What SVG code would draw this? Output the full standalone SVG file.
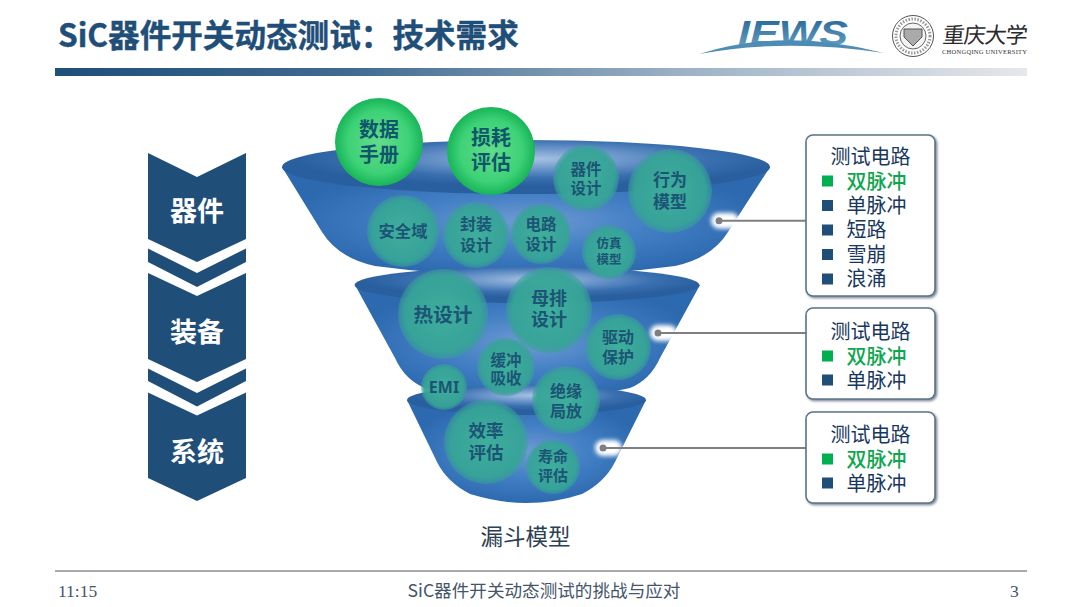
<svg xmlns="http://www.w3.org/2000/svg" width="1080" height="607" viewBox="0 0 1080 607">
<style>
text{font-family:"Noto Sans CJK SC","Noto Sans",sans-serif}
.c{text-anchor:middle}
.title{font-size:31.6px;font-weight:700;fill:#1f4e79;stroke:#1f4e79;stroke-width:.4}
.chev{fill:#1f4e79}
.cl{font-size:27px;font-weight:700;fill:#fff;text-anchor:middle}
.b{fill:url(#teal)}
.g{fill:url(#green)}
.t{font-weight:700;fill:#1b5474;text-anchor:middle}
.tg{font-weight:700;fill:#0f566c;text-anchor:middle;font-size:20px}
.box{fill:#fff;stroke:#5c7488;stroke-width:1.6;filter:url(#sh)}
.bt{font-size:20px;fill:#17375e}
.gt{font-size:20px;fill:#0fa650;font-weight:500}
.sqn{fill:#1f4e79}
.sqg{fill:#00b050}
.lead{stroke:#7f7f7f;stroke-width:2;fill:none}
.dot{fill:#7f7f7f}
.glow{fill:#fff;filter:url(#bl)}
.foot{font-family:"Liberation Serif",serif;font-size:17.5px;fill:#44546a}
.ft{font-size:17.6px;fill:#44546a}
</style>
<defs>
<linearGradient id="bar" x1="0" x2="1" y1="0" y2="0"><stop offset="0" stop-color="#1f4e79"/><stop offset=".3" stop-color="#3f6a92"/><stop offset=".65" stop-color="#9db2c6"/><stop offset="1" stop-color="#e6e8ea"/></linearGradient>
<radialGradient id="body" cx=".5" cy=".5" r=".5"><stop offset="0" stop-color="#6f9bd2"/><stop offset=".5" stop-color="#427fc4"/><stop offset="1" stop-color="#2c69ae"/></radialGradient>
<radialGradient id="rim" cx=".52" cy=".35" r=".5"><stop offset="0" stop-color="#a6c1e0"/><stop offset=".35" stop-color="#6f99cc"/><stop offset=".7" stop-color="#3a70b0"/><stop offset="1" stop-color="#2a5f9f"/></radialGradient>
<radialGradient id="teal"><stop offset="0" stop-color="#3fae9c"/><stop offset=".85" stop-color="#36a497" stop-opacity=".95"/><stop offset="1" stop-color="#38a098" stop-opacity=".5"/></radialGradient>
<radialGradient id="green"><stop offset="0" stop-color="#62dc8b"/><stop offset=".7" stop-color="#3ed277"/><stop offset="1" stop-color="#18b558"/></radialGradient>
<linearGradient id="iews" x1="0" x2="0" y1="0" y2="1"><stop offset="0" stop-color="#1d5f92"/><stop offset="1" stop-color="#6fa9c9"/></linearGradient>
<filter id="sh" x="-10%" y="-10%" width="120%" height="120%"><feDropShadow dx="1.5" dy="1.5" stdDeviation="1" flood-color="#44546a" flood-opacity=".7"/></filter>
<filter id="bl" x="-30%" y="-50%" width="160%" height="200%"><feGaussianBlur stdDeviation="2"/></filter>
</defs>

<g id="header">
<text class="title" x="58" y="47">SiC器件开关动态测试&#xFF1A;技术需求</text>
<rect x="55" y="68" width="972" height="8" fill="url(#bar)"/>
</g>
<g id="logo-iews">
<text x="738" y="45" font-size="35" font-style="italic" font-weight="800" fill="url(#iews)" textLength="110" lengthAdjust="spacingAndGlyphs" style="font-family:'Liberation Sans',sans-serif">IEWS</text>
<path d="M699,54 Q785,27 884,53 Q785,38 699,54Z" fill="#4d8db5"/>
</g>
<g id="logo-cqu">
<circle cx="913" cy="36" r="20.5" fill="#fff" stroke="#555" stroke-width="1"/>
<circle cx="913" cy="36" r="13" fill="#f4f4f4" stroke="#666" stroke-width="1"/>
<circle cx="913" cy="36" r="17" fill="none" stroke="#999" stroke-width="3" stroke-dasharray="1.5 1.5"/>
<path d="M904,29 H922 V37 L913,46 L904,37Z" fill="#aaa" stroke="#555" stroke-width="1"/>
<text x="942" y="43" font-size="22" fill="#2a2a2a" textLength="85" transform="skewX(-6) translate(4.500 0)" style="font-family:'Noto Sans CJK SC',serif">重庆大学</text>
<text x="942" y="54" font-size="6.5" fill="#333" textLength="85" style="font-family:'Liberation Serif',serif">CHONGQING UNIVERSITY</text>
</g>

<g id="stage-device">
<path class="chev" d="M148,153 L197,177 L246,153 V239 L197,262 L148,239Z"/>
<path class="chev" d="M148,248.500 L197,273 L246,248.500 V262 L197,287 L148,262Z"/>
<text class="cl" x="197" y="221">器件</text>
</g>
<g id="stage-equipment">
<path class="chev" d="M148,273 L197,296 L246,273 V359 L197,382 L148,359Z"/>
<path class="chev" d="M148,368.500 L197,393 L246,368.500 V381 L197,406.500 L148,381Z"/>
<text class="cl" x="197" y="342">装备</text>
</g>
<g id="stage-system">
<path class="chev" d="M148,392.500 L197,415.500 L246,392.500 V478 L197,501 L148,478Z"/>
<text class="cl" x="197" y="462">系统</text>
</g>

<g id="funnel-1">
<path d="M282,167 L322,232 Q338,258 375,266 Q450,276 526,276 Q600,276 675,266 Q712,258 728,232 L770,167Z" fill="url(#body)"/>
<ellipse cx="526" cy="167" rx="244" ry="27" fill="url(#rim)"/>
</g>
<g id="funnel-2">
<path d="M355,285 L395,358 Q405,380 425,388 Q475,400 527,400 Q580,400 630,388 Q650,380 660,358 L700,285Z" fill="url(#body)"/>
<ellipse cx="527" cy="285" rx="172.500" ry="18" fill="url(#rim)"/>
</g>
<g id="funnel-3">
<path d="M407,400 L437,462 Q447,482 470,494 Q500,503 526,503 Q555,503 582,494 Q605,482 615,462 L646,400Z" fill="url(#body)"/>
<ellipse cx="526.500" cy="400" rx="119.500" ry="15" fill="url(#rim)"/>
</g>

<g id="connectors">
<rect class="glow" x="711" y="212.700" width="28" height="16" rx="8"/>
<rect class="glow" x="650" y="325" width="27" height="16" rx="8"/>
<rect class="glow" x="595" y="440" width="27" height="16" rx="8"/>
<path class="lead" d="M719,220.700 H806"/>
<path class="lead" d="M658,333 H806"/>
<path class="lead" d="M603,448 H806"/>
<circle class="dot" cx="719" cy="220.700" r="3.500"/>
<circle class="dot" cx="658" cy="333" r="3.500"/>
<circle class="dot" cx="603" cy="448" r="3.500"/>
</g>

<g id="n-behavior"><circle class="b" cx="670" cy="191" r="42"/><text class="t" font-size="17" x="670" y="186">行为</text><text class="t" font-size="17" x="670" y="208">模型</text></g>
<g id="n-devdesign"><circle class="b" cx="586" cy="178" r="33"/><text class="t" font-size="15.500" x="586" y="175">器件</text><text class="t" font-size="15.500" x="586" y="194">设计</text></g>
<g id="n-soa"><circle class="b" cx="403" cy="231" r="36"/><text class="t" font-size="16.300" x="403" y="237">安全域</text></g>
<g id="n-package"><circle class="b" cx="476" cy="235" r="33"/><text class="t" font-size="16" x="476" y="230">封装</text><text class="t" font-size="16" x="476" y="251">设计</text></g>
<g id="n-circuit"><circle class="b" cx="541" cy="234" r="30"/><text class="t" font-size="15.500" x="541" y="230">电路</text><text class="t" font-size="15.500" x="541" y="250">设计</text></g>
<g id="n-sim"><circle class="b" cx="609" cy="252" r="27"/><text class="t" font-size="12.500" x="609" y="248">仿真</text><text class="t" font-size="12.500" x="609" y="264">模型</text></g>
<g id="n-thermal"><circle class="b" cx="443" cy="314" r="45"/><text class="t" font-size="19.700" x="443" y="322">热设计</text></g>
<g id="n-busbar"><circle class="b" cx="549" cy="310" r="43"/><text class="t" font-size="18" x="549" y="305">母排</text><text class="t" font-size="18" x="549" y="326">设计</text></g>
<g id="n-drive"><circle class="b" cx="618" cy="347" r="33"/><text class="t" font-size="16" x="618" y="343">驱动</text><text class="t" font-size="16" x="618" y="363">保护</text></g>
<g id="n-snubber"><circle class="b" cx="506" cy="367" r="29"/><text class="t" font-size="15.500" x="506" y="366">缓冲</text><text class="t" font-size="15.500" x="506" y="384">吸收</text></g>
<g id="n-emi"><circle class="b" cx="444" cy="387" r="23"/><text class="t" font-size="16" x="444" y="393" style="font-family:'Noto Sans',sans-serif">EMI</text></g>
<g id="n-insulation"><circle class="b" cx="566" cy="400" r="34"/><text class="t" font-size="16" x="566" y="397">绝缘</text><text class="t" font-size="16" x="566" y="417">局放</text></g>
<g id="n-efficiency"><circle class="b" cx="486" cy="442" r="42"/><text class="t" font-size="17.500" x="486" y="437">效率</text><text class="t" font-size="17.500" x="486" y="459">评估</text></g>
<g id="n-life"><circle class="b" cx="553" cy="467" r="27"/><text class="t" font-size="15" x="553" y="462">寿命</text><text class="t" font-size="15" x="553" y="481">评估</text></g>
<g id="n-datasheet"><circle class="g" cx="379" cy="142" r="44"/><text class="tg" x="379" y="137">数据</text><text class="tg" x="379" y="162">手册</text></g>
<g id="n-loss"><circle class="g" cx="491" cy="151" r="44"/><text class="tg" x="491" y="145">损耗</text><text class="tg" x="491" y="170">评估</text></g>

<g id="box-device">
<rect class="box" x="806" y="135" width="129" height="161" rx="7"/>
<text class="bt c" x="870.500" y="164">测试电路</text>
<rect class="sqg" x="822" y="175.500" width="11" height="11"/><text class="gt" x="846.500" y="188.500">双脉冲</text>
<rect class="sqn" x="822" y="200" width="11" height="11"/><text class="bt" x="846.500" y="213">单脉冲</text>
<rect class="sqn" x="822" y="224.500" width="11" height="11"/><text class="bt" x="846.500" y="237">短路</text>
<rect class="sqn" x="822" y="249" width="11" height="11"/><text class="bt" x="846.500" y="261.500">雪崩</text>
<rect class="sqn" x="822" y="273.500" width="11" height="11"/><text class="bt" x="846.500" y="286">浪涌</text>
</g>
<g id="box-equipment">
<rect class="box" x="806" y="308" width="129" height="91" rx="7"/>
<text class="bt c" x="870.500" y="339">测试电路</text>
<rect class="sqg" x="822" y="350.500" width="11" height="11"/><text class="gt" x="846.500" y="363.500">双脉冲</text>
<rect class="sqn" x="822" y="374.500" width="11" height="11"/><text class="bt" x="846.500" y="387.500">单脉冲</text>
</g>
<g id="box-system">
<rect class="box" x="806" y="412" width="129" height="91" rx="7"/>
<text class="bt c" x="870.500" y="442">测试电路</text>
<rect class="sqg" x="822" y="453.500" width="11" height="11"/><text class="gt" x="846.500" y="466.500">双脉冲</text>
<rect class="sqn" x="822" y="477.500" width="11" height="11"/><text class="bt" x="846.500" y="490.500">单脉冲</text>
</g>

<text id="funnel-label" class="c" x="525.500" y="545" font-size="22.500" fill="#2d3f52">漏斗模型</text>

<g id="footer">
<line x1="55" x2="1027" y1="571" y2="571" stroke="#8c8c8c" stroke-width="1.500"/>
<text class="foot" x="58" y="597">11:15</text>
<text class="ft c" x="544" y="597">SiC器件开关动态测试的挑战与应对</text>
<text class="foot" x="1010" y="597">3</text>
</g>
</svg>
